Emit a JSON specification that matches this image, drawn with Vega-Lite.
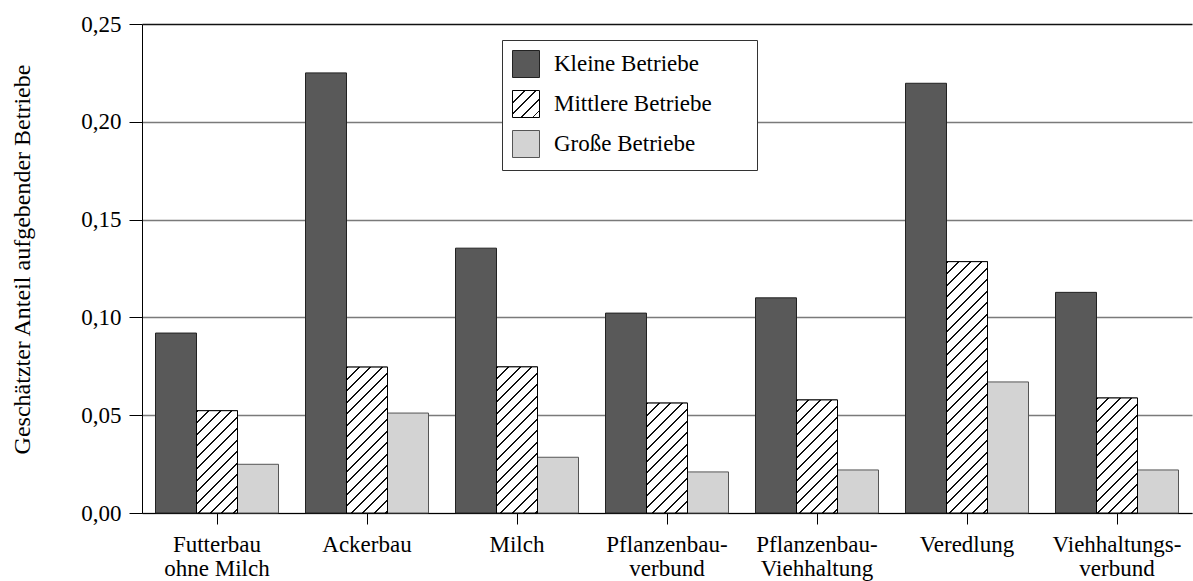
{
  "$schema": "https://vega.github.io/schema/vega-lite/v6.json",
  "width": 1050,
  "height": 489,
  "autosize": "none",
  "padding": {"left": 142, "top": 24, "right": 1, "bottom": 68},
  "background": "white",
  "config": {
    "view": {"stroke": null},
    "font": "Liberation Serif"
  },
  "params": [
    {
      "name": "hatch",
      "expr": "[{offset:0,color:'#111'},{offset:0.0065,color:'#111'},{offset:0.0065,color:'#fff'},{offset:0.03846,color:'#fff'},{offset:0.03846,color:'#111'},{offset:0.04496,color:'#111'},{offset:0.04496,color:'#fff'},{offset:0.07692,color:'#fff'},{offset:0.07692,color:'#111'},{offset:0.08342,color:'#111'},{offset:0.08342,color:'#fff'},{offset:0.11538,color:'#fff'},{offset:0.11538,color:'#111'},{offset:0.12188,color:'#111'},{offset:0.12188,color:'#fff'},{offset:0.15385,color:'#fff'},{offset:0.15385,color:'#111'},{offset:0.16035,color:'#111'},{offset:0.16035,color:'#fff'},{offset:0.19231,color:'#fff'},{offset:0.19231,color:'#111'},{offset:0.19881,color:'#111'},{offset:0.19881,color:'#fff'},{offset:0.23077,color:'#fff'},{offset:0.23077,color:'#111'},{offset:0.23727,color:'#111'},{offset:0.23727,color:'#fff'},{offset:0.26923,color:'#fff'},{offset:0.26923,color:'#111'},{offset:0.27573,color:'#111'},{offset:0.27573,color:'#fff'},{offset:0.30769,color:'#fff'},{offset:0.30769,color:'#111'},{offset:0.31419,color:'#111'},{offset:0.31419,color:'#fff'},{offset:0.34615,color:'#fff'},{offset:0.34615,color:'#111'},{offset:0.35265,color:'#111'},{offset:0.35265,color:'#fff'},{offset:0.38462,color:'#fff'},{offset:0.38462,color:'#111'},{offset:0.39112,color:'#111'},{offset:0.39112,color:'#fff'},{offset:0.42308,color:'#fff'},{offset:0.42308,color:'#111'},{offset:0.42958,color:'#111'},{offset:0.42958,color:'#fff'},{offset:0.46154,color:'#fff'},{offset:0.46154,color:'#111'},{offset:0.46804,color:'#111'},{offset:0.46804,color:'#fff'},{offset:0.5,color:'#fff'},{offset:0.5,color:'#111'},{offset:0.5065,color:'#111'},{offset:0.5065,color:'#fff'},{offset:0.53846,color:'#fff'},{offset:0.53846,color:'#111'},{offset:0.54496,color:'#111'},{offset:0.54496,color:'#fff'},{offset:0.57692,color:'#fff'},{offset:0.57692,color:'#111'},{offset:0.58342,color:'#111'},{offset:0.58342,color:'#fff'},{offset:0.61538,color:'#fff'},{offset:0.61538,color:'#111'},{offset:0.62188,color:'#111'},{offset:0.62188,color:'#fff'},{offset:0.65385,color:'#fff'},{offset:0.65385,color:'#111'},{offset:0.66035,color:'#111'},{offset:0.66035,color:'#fff'},{offset:0.69231,color:'#fff'},{offset:0.69231,color:'#111'},{offset:0.69881,color:'#111'},{offset:0.69881,color:'#fff'},{offset:0.73077,color:'#fff'},{offset:0.73077,color:'#111'},{offset:0.73727,color:'#111'},{offset:0.73727,color:'#fff'},{offset:0.76923,color:'#fff'},{offset:0.76923,color:'#111'},{offset:0.77573,color:'#111'},{offset:0.77573,color:'#fff'},{offset:0.80769,color:'#fff'},{offset:0.80769,color:'#111'},{offset:0.81419,color:'#111'},{offset:0.81419,color:'#fff'},{offset:0.84615,color:'#fff'},{offset:0.84615,color:'#111'},{offset:0.85265,color:'#111'},{offset:0.85265,color:'#fff'},{offset:0.88462,color:'#fff'},{offset:0.88462,color:'#111'},{offset:0.89112,color:'#111'},{offset:0.89112,color:'#fff'},{offset:0.92308,color:'#fff'},{offset:0.92308,color:'#111'},{offset:0.92958,color:'#111'},{offset:0.92958,color:'#fff'},{offset:0.96154,color:'#fff'},{offset:0.96154,color:'#111'},{offset:0.96804,color:'#111'},{offset:0.96804,color:'#fff'},{offset:1,color:'#fff'}]"
    }
  ],
  "data": {
    "values": [
      {"Betriebsform": "Futterbau ohne Milch", "Groesse": "Kleine Betriebe", "Anteil": 0.092},
      {"Betriebsform": "Futterbau ohne Milch", "Groesse": "Mittlere Betriebe", "Anteil": 0.0523},
      {"Betriebsform": "Futterbau ohne Milch", "Groesse": "Große Betriebe", "Anteil": 0.0249},
      {"Betriebsform": "Ackerbau", "Groesse": "Kleine Betriebe", "Anteil": 0.225},
      {"Betriebsform": "Ackerbau", "Groesse": "Mittlere Betriebe", "Anteil": 0.0746},
      {"Betriebsform": "Ackerbau", "Groesse": "Große Betriebe", "Anteil": 0.0511},
      {"Betriebsform": "Milch", "Groesse": "Kleine Betriebe", "Anteil": 0.1354},
      {"Betriebsform": "Milch", "Groesse": "Mittlere Betriebe", "Anteil": 0.0747},
      {"Betriebsform": "Milch", "Groesse": "Große Betriebe", "Anteil": 0.0285},
      {"Betriebsform": "Pflanzenbau-verbund", "Groesse": "Kleine Betriebe", "Anteil": 0.1022},
      {"Betriebsform": "Pflanzenbau-verbund", "Groesse": "Mittlere Betriebe", "Anteil": 0.0562},
      {"Betriebsform": "Pflanzenbau-verbund", "Groesse": "Große Betriebe", "Anteil": 0.021},
      {"Betriebsform": "Pflanzenbau-Viehhaltung", "Groesse": "Kleine Betriebe", "Anteil": 0.110},
      {"Betriebsform": "Pflanzenbau-Viehhaltung", "Groesse": "Mittlere Betriebe", "Anteil": 0.0578},
      {"Betriebsform": "Pflanzenbau-Viehhaltung", "Groesse": "Große Betriebe", "Anteil": 0.022},
      {"Betriebsform": "Veredlung", "Groesse": "Kleine Betriebe", "Anteil": 0.2197},
      {"Betriebsform": "Veredlung", "Groesse": "Mittlere Betriebe", "Anteil": 0.1285},
      {"Betriebsform": "Veredlung", "Groesse": "Große Betriebe", "Anteil": 0.067},
      {"Betriebsform": "Viehhaltungs-verbund", "Groesse": "Kleine Betriebe", "Anteil": 0.1128},
      {"Betriebsform": "Viehhaltungs-verbund", "Groesse": "Mittlere Betriebe", "Anteil": 0.0588},
      {"Betriebsform": "Viehhaltungs-verbund", "Groesse": "Große Betriebe", "Anteil": 0.022}
    ]
  },
  "encoding": {
    "x": {
      "field": "Betriebsform",
      "type": "nominal",
      "sort": null,
      "scale": {"paddingInner": 0.18, "paddingOuter": 0.09},
      "axis": {
        "title": null,
        "labelAngle": 0,
        "labelFont": "Liberation Serif",
        "labelFontSize": 23,
        "labelColor": "#000",
        "labelPadding": 9,
        "labelLineHeight": 24.5,
        "labelExpr": "datum.label == 'Futterbau ohne Milch' ? ['Futterbau', 'ohne Milch'] : (indexof(datum.label, '-') > 0 ? [slice(datum.label, 0, indexof(datum.label, '-') + 1), slice(datum.label, indexof(datum.label, '-') + 1)] : datum.label)",
        "tickSize": 11,
        "tickColor": "#000",
        "domainColor": "#000",
        "domainWidth": 1,
        "grid": false
      }
    },
    "xOffset": {
      "field": "Groesse",
      "type": "nominal",
      "sort": ["Kleine Betriebe", "Mittlere Betriebe", "Große Betriebe"],
      "scale": {"paddingInner": 0, "paddingOuter": 0}
    },
    "y": {
      "field": "Anteil",
      "type": "quantitative",
      "stack": null,
      "scale": {"domain": [0, 0.25], "nice": false},
      "axis": {
        "title": "Geschätzter Anteil aufgebender Betriebe",
        "titleFont": "Liberation Serif",
        "titleFontSize": 24,
        "titleFontWeight": "normal",
        "titleColor": "#000",
        "titleAngle": 270,
        "titleAlign": "center",
        "titleBaseline": "middle",
        "titleX": -120,
        "titleY": 235,
        "values": [0, 0.05, 0.1, 0.15, 0.2, 0.25],
        "labelExpr": "replace(format(datum.value, '.2f'), '.', ',')",
        "labelFont": "Liberation Serif",
        "labelFontSize": 23,
        "labelColor": "#000",
        "labelPadding": 8,
        "tickSize": 13,
        "tickColor": "#000",
        "domainColor": "#000",
        "domainWidth": 1,
        "grid": true,
        "gridColor": {"condition": {"test": "datum.value >= 0.249", "value": "#111"}, "value": "#7a7a7a"},
        "gridWidth": {"condition": {"test": "datum.value >= 0.249", "value": 1.6}, "value": 1.3}
      }
    }
  },
  "layer": [
    {
      "mark": {"type": "bar", "strokeWidth": 1},
      "encoding": {
        "fill": {
          "field": "Groesse",
          "type": "nominal",
          "sort": ["Kleine Betriebe", "Mittlere Betriebe", "Große Betriebe"],
          "scale": {
            "domain": ["Kleine Betriebe", "Mittlere Betriebe", "Große Betriebe"],
            "range": ["#595959", {"expr": "{gradient:'linear',x1:0,y1:0,x2:5.537,y2:5.537,stops:hatch}"}, "#d3d3d3"]
          },
          "legend": {
            "title": null,
            "orient": "none",
            "legendX": 360,
            "legendY": 16,
            "direction": "vertical",
            "symbolType": "square",
            "symbolSize": 729,
            "symbolStrokeWidth": 1,
            "symbolStrokeColor": "#222",
            "symbolOpacity": 1,
            "labelFont": "Liberation Serif",
            "labelFontSize": 23,
            "labelColor": "#000",
            "labelOffset": 14,
            "labelLimit": 400,
            "labelExpr": "datum.label + '\u2003\u2002\u200b'",
            "rowPadding": 8,
            "padding": 10,
            "strokeColor": "#333",
            "fillColor": "#ffffff",
            "encode": {
              "symbols": {
                "update": {
                  "stroke": [
                    {"test": "datum.value === 'Große Betriebe'", "value": "#555"},
                    {"test": "datum.value === 'Mittlere Betriebe'", "value": "#000"},
                    {"value": "#222"}
                  ]
                }
              }
            }
          }
        },
        "stroke": {
          "condition": {"test": "datum.Groesse === 'Große Betriebe'", "value": "#555"},
          "value": "#222"
        }
      }
    },
    {
      "transform": [{"filter": "datum.Groesse === 'Mittlere Betriebe'"}],
      "mark": {
        "type": "bar",
        "stroke": "#000",
        "strokeWidth": 1,
        "fill": {"expr": "{gradient:'linear',x1:0,y1:0,x2:299*bandwidth('xOffset')/(pow(bandwidth('xOffset'),2)+pow(scale('y',0)-scale('y',datum.Anteil),2)),y2:299*(scale('y',0)-scale('y',datum.Anteil))/(pow(bandwidth('xOffset'),2)+pow(scale('y',0)-scale('y',datum.Anteil),2)),stops:hatch}"}
      },
      "encoding": {}
    }
  ]
}
